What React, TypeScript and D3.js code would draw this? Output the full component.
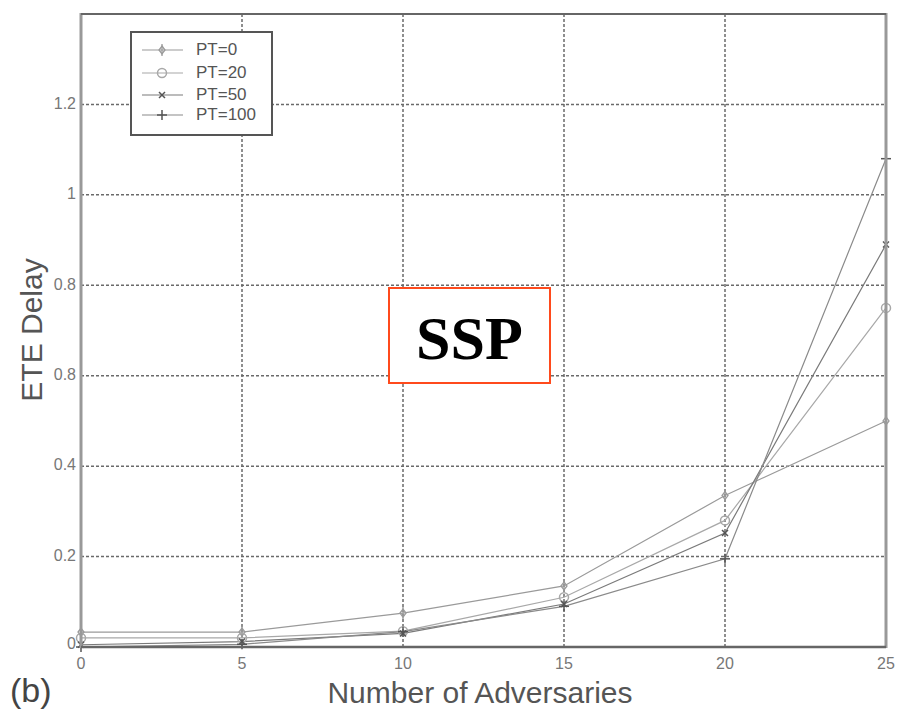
import React from "react";
import * as d3 from "d3";

const xValues = [0, 5, 10, 15, 20, 25];
const pt0 = [0.033, 0.033, 0.075, 0.135, 0.335, 0.5];
const pt20 = [0.02, 0.02, 0.035, 0.11, 0.28, 0.75];
const pt50 = [0.005, 0.012, 0.03, 0.095, 0.252, 0.89];
const pt100 = [0.0, 0.006, 0.034, 0.09, 0.195, 1.08];
const seriesNames = ["PT=0", "PT=20", "PT=50", "PT=100"];
const xTicks = [0, 5, 10, 15, 20, 25];
const yTicks = [0, 0.2, 0.4, 0.6, 0.8, 1, 1.2];
const yTickLabels = ["0", "0.2", "0.4", "0.8", "0.8", "1", "1.2"];

const W = 899, H = 710;
const L = 81, R = 886, T = 14, B = 647;

const seriesData = [pt0, pt20, pt50, pt100];
const seriesColors = ["#9a9a9a", "#a8a8a8", "#7a7a7a", "#8a8a8a"];
const markers = ["diamond", "circle", "x", "plus"];

function Marker({ type, cx, cy, color }: { type: string; cx: number; cy: number; color: string }) {
  if (type === "diamond") {
    return (
      <g stroke={color} strokeWidth={1.3} fill="none">
        <path d={`M${cx},${cy - 4}L${cx + 3},${cy}L${cx},${cy + 4}L${cx - 3},${cy}Z`} />
        <line x1={cx} y1={cy - 6} x2={cx} y2={cy + 6} />
      </g>
    );
  }
  if (type === "circle") {
    return <circle cx={cx} cy={cy} r={4.5} fill="none" stroke={color} strokeWidth={1.5} />;
  }
  if (type === "x") {
    return (
      <g stroke="#555" strokeWidth={1.5}>
        <line x1={cx - 3} y1={cy - 3} x2={cx + 3} y2={cy + 3} />
        <line x1={cx - 3} y1={cy + 3} x2={cx + 3} y2={cy - 3} />
      </g>
    );
  }
  return (
    <g stroke="#555" strokeWidth={1.5}>
      <line x1={cx - 5} y1={cy} x2={cx + 5} y2={cy} />
      <line x1={cx} y1={cy - 5} x2={cx} y2={cy + 5} />
    </g>
  );
}

export default function App() {
  const x = d3.scaleLinear().domain([0, 25]).range([L, R]);
  const y = d3.scaleLinear().domain([0, 1.4]).range([B, T]);
  const line = d3
    .line<number>()
    .x((_, i) => x(xValues[i]))
    .y((d) => y(d));

  const legendY = [50, 73, 95, 115];

  return (
    <svg
      width={W}
      height={H}
      style={{ position: "absolute", left: 0, top: 0, background: "#fff" }}
      fontFamily="'Liberation Sans', Arial, sans-serif"
    >
      <rect x={0} y={0} width={W} height={H} fill="#fff" />
      {/* grid */}
      {xTicks.slice(1, -1).map((t) => (
        <line key={"gx" + t} x1={x(t)} x2={x(t)} y1={T} y2={B} stroke="#6a6a6a" strokeWidth={1.5} strokeDasharray="3,2" />
      ))}
      {yTicks.slice(1).map((t) => (
        <line key={"gy" + t} x1={L} x2={R} y1={y(t)} y2={y(t)} stroke="#6a6a6a" strokeWidth={1.5} strokeDasharray="3,2" />
      ))}
      {/* series */}
      {seriesData.map((s, i) => (
        <path key={"s" + i} d={line(s) || ""} fill="none" stroke={seriesColors[i]} strokeWidth={1.2} />
      ))}
      {seriesData.map((s, i) =>
        s.map((v, j) => (
          <Marker key={`m${i}-${j}`} type={markers[i]} cx={x(xValues[j])} cy={y(v)} color={seriesColors[i]} />
        ))
      )}
      {/* frame */}
      <line x1={L} x2={L} y1={T - 1} y2={B + 1} stroke="#999" strokeWidth={3} />
      <line x1={R} x2={R} y1={T - 1} y2={B + 1} stroke="#999" strokeWidth={3} />
      <line x1={L} x2={R} y1={T} y2={T} stroke="#666" strokeWidth={2} />
      <line x1={L} x2={R} y1={B} y2={B} stroke="#666" strokeWidth={2.5} />
      {/* tick labels */}
      {yTicks.map((t, i) => (
        <text key={"yl" + t} x={L - 5} y={y(t) - (t === 0 ? 2 : 0)} textAnchor="end" dominantBaseline="middle" fontSize={16} fill="#777">
          {yTickLabels[i]}
        </text>
      ))}
      {xTicks.map((t) => (
        <text key={"xl" + t} x={x(t)} y={665} textAnchor="middle" dominantBaseline="middle" fontSize={16} fill="#777">
          {t}
        </text>
      ))}
      {/* axis titles */}
      <text x={480} y={703} textAnchor="middle" fontSize={30} fill="#555">
        Number of Adversaries
      </text>
      <text transform="translate(42,330) rotate(-90)" textAnchor="middle" fontSize={30} fill="#555">
        ETE Delay
      </text>
      <text x={10} y={702} fontSize={34} fill="#444">
        (b)
      </text>
      {/* legend */}
      <rect x={131} y={32} width={141} height={103} fill="#fff" stroke="#555" strokeWidth={2} />
      {seriesNames.map((n, i) => (
        <g key={"lg" + i}>
          <line x1={142} x2={183} y1={legendY[i]} y2={legendY[i]} stroke={seriesColors[i]} strokeWidth={1.2} />
          <Marker type={markers[i]} cx={162} cy={legendY[i]} color={seriesColors[i]} />
          <text x={196} y={legendY[i] + 1} dominantBaseline="middle" fontSize={17} fill="#555">
            {n}
          </text>
        </g>
      ))}
      {/* SSP box */}
      <rect x={389} y={288} width={161} height={95} fill="#fff" stroke="#ff4a1c" strokeWidth={2} />
      <text x={469.5} y={359} textAnchor="middle" fontSize={62} fontWeight="bold" fontFamily="'Liberation Serif', 'Times New Roman', serif" fill="#000">
        SSP
      </text>
    </svg>
  );
}
